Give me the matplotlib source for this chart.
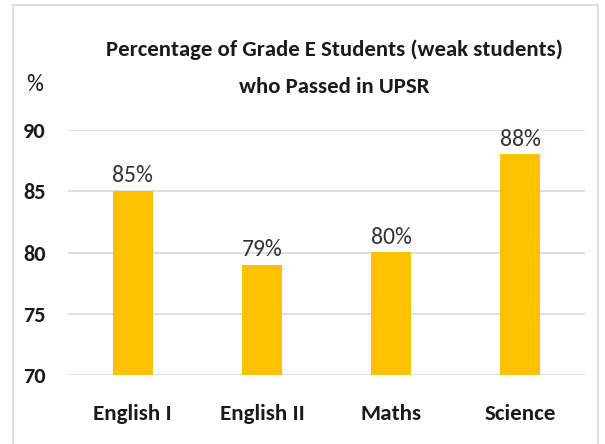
import matplotlib
matplotlib.use("Agg")
import matplotlib.pyplot as plt
from matplotlib.patches import Rectangle
from matplotlib import font_manager

categories = ["English I", "English II", "Maths", "Science"]
values = [85, 79, 80, 88]
yticks = [70, 75, 80, 85, 90]
title_lines = ["Percentage of Grade E Students (weak students)", "who Passed in UPSR"]

names = {f.name for f in font_manager.fontManager.ttflist}
fam = [f for f in ["Carlito", "Archivo Narrow", "Asap Condensed", "Open Sans", "DejaVu Sans"] if f in names]
plt.rcParams["font.family"] = fam

W, H = 605, 444
fig = plt.figure(figsize=(W / 100, H / 100), dpi=100)
fig.patches.append(Rectangle((13 / W, -0.05), (598 - 13) / W, 1.05 - 5 / H,
                             transform=fig.transFigure, fill=False,
                             edgecolor="#D9D9D9", linewidth=1.2))

ax = fig.add_axes([68 / W, 1 - 375 / H, (585 - 68) / W, (375 - 130) / H])
x = list(range(len(categories)))
ax.bar(x, [v - 70 for v in values], bottom=70, width=0.31, color="#FFC000", zorder=3)
ax.set_ylim(70, 90)
ax.set_xlim(-0.5, 3.5)
ax.set_yticks(yticks)
ax.set_yticklabels([str(t) for t in yticks], fontsize=16, fontweight="bold", color="#1a1a1a")
ax.set_xticks(x)
ax.set_xticklabels(categories, fontsize=16.6, fontweight="bold", color="#1a1a1a")
ax.tick_params(axis="both", length=0)
ax.tick_params(axis="y", pad=16)
ax.tick_params(axis="x", pad=21)
ax.grid(axis="y", color="#D9D9D9", linewidth=1.2, zorder=0)
for s in ax.spines.values():
    s.set_visible(False)
for xi, v in zip(x, values):
    ax.text(xi, v + 0.4, f"{v}%", ha="center", va="bottom", fontsize=17,
            color="#333333")

fig.text(334 / W, 1 - 50 / H, title_lines[0], ha="center", va="center", fontsize=16.4,
         fontweight="bold", color="#1a1a1a")
fig.text(334 / W, 1 - 87 / H, title_lines[1], ha="center", va="center", fontsize=16.4,
         fontweight="bold", color="#1a1a1a")
fig.text(35 / W, 1 - 84 / H, "%", ha="center", va="center", fontsize=17, color="#1a1a1a")

fig.savefig("out.png", dpi=100)
